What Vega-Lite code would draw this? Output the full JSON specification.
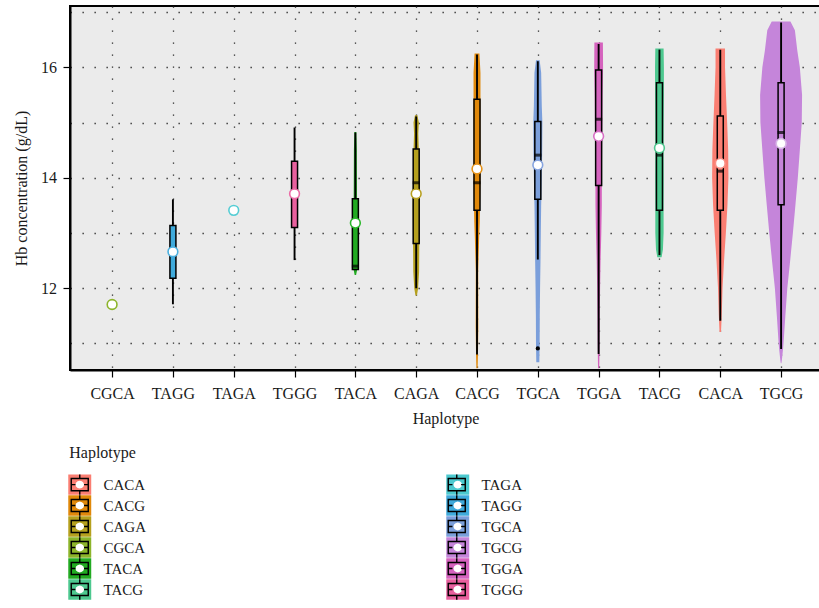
{
  "$schema": "https://vega.github.io/schema/vega-lite/v6.json",
  "width": 751,
  "height": 364,
  "autosize": {"type": "none"},
  "padding": {"left": 70, "top": 6, "right": -2, "bottom": 238},
  "background": "white",
  "config": {
    "font": "Liberation Serif",
    "view": {"fill": "#EBEBEB", "stroke": "black", "strokeWidth": 2},
    "axis": {
      "labelFont": "Liberation Serif", "titleFont": "Liberation Serif",
      "labelFontSize": 16, "titleFontSize": 16,
      "labelColor": "#1a1a1a", "titleColor": "#1a1a1a", "titleFontWeight": "normal",
      "domainColor": "black", "domainWidth": 2,
      "tickColor": "black", "tickSize": 7, "tickWidth": 1.2,
      "gridColor": "#2a2a2a", "gridDash": [1.3, 10.7], "gridWidth": 1.3
    },
    "legend": {
      "labelFont": "Liberation Serif", "titleFont": "Liberation Serif",
      "labelFontSize": 15, "titleFontSize": 16, "titleFontWeight": "normal",
      "labelColor": "#1a1a1a", "titleColor": "#1a1a1a"
    }
  },
  "datasets": {
    "violin": [
      {"Haplotype": "TACA", "hb": 14.83, "lo": 4.984, "hi": 5.016},
      {"Haplotype": "TACA", "hb": 14.5, "lo": 4.976, "hi": 5.024},
      {"Haplotype": "TACA", "hb": 13.5, "lo": 4.972, "hi": 5.028},
      {"Haplotype": "TACA", "hb": 12.8, "lo": 4.965, "hi": 5.035},
      {"Haplotype": "TACA", "hb": 12.4, "lo": 4.96, "hi": 5.04},
      {"Haplotype": "TACA", "hb": 12.24, "lo": 4.988, "hi": 5.012},
      {"Haplotype": "CAGA", "hb": 15.13, "lo": 5.98, "hi": 6.02},
      {"Haplotype": "CAGA", "hb": 15.0, "lo": 5.956, "hi": 6.044},
      {"Haplotype": "CAGA", "hb": 14.8, "lo": 5.965, "hi": 6.035},
      {"Haplotype": "CAGA", "hb": 14.3, "lo": 5.95, "hi": 6.05},
      {"Haplotype": "CAGA", "hb": 13.5, "lo": 5.942, "hi": 6.058},
      {"Haplotype": "CAGA", "hb": 12.6, "lo": 5.95, "hi": 6.05},
      {"Haplotype": "CAGA", "hb": 12.3, "lo": 5.952, "hi": 6.048},
      {"Haplotype": "CAGA", "hb": 12.0, "lo": 5.968, "hi": 6.032},
      {"Haplotype": "CAGA", "hb": 11.87, "lo": 5.988, "hi": 6.012},
      {"Haplotype": "CACG", "hb": 16.25, "lo": 6.96, "hi": 7.04},
      {"Haplotype": "CACG", "hb": 15.9, "lo": 6.943, "hi": 7.057},
      {"Haplotype": "CACG", "hb": 15.5, "lo": 6.943, "hi": 7.057},
      {"Haplotype": "CACG", "hb": 14.5, "lo": 6.943, "hi": 7.057},
      {"Haplotype": "CACG", "hb": 13.9, "lo": 6.943, "hi": 7.057},
      {"Haplotype": "CACG", "hb": 13.5, "lo": 6.95, "hi": 7.05},
      {"Haplotype": "CACG", "hb": 13.2, "lo": 6.955, "hi": 7.045},
      {"Haplotype": "CACG", "hb": 12.9, "lo": 6.965, "hi": 7.035},
      {"Haplotype": "CACG", "hb": 12.3, "lo": 6.98, "hi": 7.02},
      {"Haplotype": "CACG", "hb": 11.3, "lo": 6.978, "hi": 7.022},
      {"Haplotype": "CACG", "hb": 10.8, "lo": 6.984, "hi": 7.016},
      {"Haplotype": "CACG", "hb": 10.55, "lo": 6.99, "hi": 7.01},
      {"Haplotype": "TGCA", "hb": 16.13, "lo": 7.97, "hi": 8.03},
      {"Haplotype": "TGCA", "hb": 15.9, "lo": 7.945, "hi": 8.055},
      {"Haplotype": "TGCA", "hb": 15.3, "lo": 7.935, "hi": 8.065},
      {"Haplotype": "TGCA", "hb": 15.0, "lo": 7.925, "hi": 8.075},
      {"Haplotype": "TGCA", "hb": 14.5, "lo": 7.928, "hi": 8.072},
      {"Haplotype": "TGCA", "hb": 14.0, "lo": 7.935, "hi": 8.065},
      {"Haplotype": "TGCA", "hb": 13.5, "lo": 7.945, "hi": 8.055},
      {"Haplotype": "TGCA", "hb": 13.0, "lo": 7.951, "hi": 8.049},
      {"Haplotype": "TGCA", "hb": 12.5, "lo": 7.956, "hi": 8.044},
      {"Haplotype": "TGCA", "hb": 12.0, "lo": 7.963, "hi": 8.037},
      {"Haplotype": "TGCA", "hb": 11.5, "lo": 7.968, "hi": 8.032},
      {"Haplotype": "TGCA", "hb": 11.0, "lo": 7.97, "hi": 8.03},
      {"Haplotype": "TGCA", "hb": 10.66, "lo": 7.975, "hi": 8.025},
      {"Haplotype": "TGGA", "hb": 16.45, "lo": 8.93, "hi": 9.07},
      {"Haplotype": "TGGA", "hb": 16.0, "lo": 8.927, "hi": 9.073},
      {"Haplotype": "TGGA", "hb": 15.5, "lo": 8.935, "hi": 9.065},
      {"Haplotype": "TGGA", "hb": 15.0, "lo": 8.938, "hi": 9.062},
      {"Haplotype": "TGGA", "hb": 14.5, "lo": 8.943, "hi": 9.057},
      {"Haplotype": "TGGA", "hb": 14.0, "lo": 8.947, "hi": 9.053},
      {"Haplotype": "TGGA", "hb": 13.5, "lo": 8.948, "hi": 9.052},
      {"Haplotype": "TGGA", "hb": 13.0, "lo": 8.956, "hi": 9.044},
      {"Haplotype": "TGGA", "hb": 12.5, "lo": 8.968, "hi": 9.032},
      {"Haplotype": "TGGA", "hb": 12.0, "lo": 8.976, "hi": 9.024},
      {"Haplotype": "TGGA", "hb": 11.5, "lo": 8.981, "hi": 9.019},
      {"Haplotype": "TGGA", "hb": 11.0, "lo": 8.984, "hi": 9.016},
      {"Haplotype": "TGGA", "hb": 10.55, "lo": 8.99, "hi": 9.01},
      {"Haplotype": "TACG", "hb": 16.34, "lo": 9.932, "hi": 10.068},
      {"Haplotype": "TACG", "hb": 16.0, "lo": 9.927, "hi": 10.073},
      {"Haplotype": "TACG", "hb": 15.5, "lo": 9.927, "hi": 10.073},
      {"Haplotype": "TACG", "hb": 15.0, "lo": 9.93, "hi": 10.07},
      {"Haplotype": "TACG", "hb": 14.5, "lo": 9.932, "hi": 10.068},
      {"Haplotype": "TACG", "hb": 14.0, "lo": 9.93, "hi": 10.07},
      {"Haplotype": "TACG", "hb": 13.5, "lo": 9.932, "hi": 10.068},
      {"Haplotype": "TACG", "hb": 13.0, "lo": 9.932, "hi": 10.068},
      {"Haplotype": "TACG", "hb": 12.7, "lo": 9.943, "hi": 10.057},
      {"Haplotype": "TACG", "hb": 12.56, "lo": 9.965, "hi": 10.035},
      {"Haplotype": "CACA", "hb": 16.34, "lo": 10.922, "hi": 11.078},
      {"Haplotype": "CACA", "hb": 16.0, "lo": 10.922, "hi": 11.078},
      {"Haplotype": "CACA", "hb": 15.5, "lo": 10.906, "hi": 11.094},
      {"Haplotype": "CACA", "hb": 15.0, "lo": 10.887, "hi": 11.113},
      {"Haplotype": "CACA", "hb": 14.5, "lo": 10.87, "hi": 11.13},
      {"Haplotype": "CACA", "hb": 14.0, "lo": 10.866, "hi": 11.134},
      {"Haplotype": "CACA", "hb": 13.5, "lo": 10.882, "hi": 11.118},
      {"Haplotype": "CACA", "hb": 13.0, "lo": 10.908, "hi": 11.092},
      {"Haplotype": "CACA", "hb": 12.5, "lo": 10.938, "hi": 11.062},
      {"Haplotype": "CACA", "hb": 12.0, "lo": 10.963, "hi": 11.037},
      {"Haplotype": "CACA", "hb": 11.5, "lo": 10.976, "hi": 11.024},
      {"Haplotype": "CACA", "hb": 11.21, "lo": 10.988, "hi": 11.012},
      {"Haplotype": "TGCG", "hb": 16.83, "lo": 11.846, "hi": 12.154},
      {"Haplotype": "TGCG", "hb": 16.67, "lo": 11.773, "hi": 12.227},
      {"Haplotype": "TGCG", "hb": 16.3, "lo": 11.733, "hi": 12.267},
      {"Haplotype": "TGCG", "hb": 16.0, "lo": 11.692, "hi": 12.308},
      {"Haplotype": "TGCG", "hb": 15.5, "lo": 11.655, "hi": 12.345},
      {"Haplotype": "TGCG", "hb": 15.0, "lo": 11.66, "hi": 12.34},
      {"Haplotype": "TGCG", "hb": 14.5, "lo": 11.692, "hi": 12.308},
      {"Haplotype": "TGCG", "hb": 14.0, "lo": 11.725, "hi": 12.275},
      {"Haplotype": "TGCG", "hb": 13.5, "lo": 11.765, "hi": 12.235},
      {"Haplotype": "TGCG", "hb": 13.0, "lo": 11.806, "hi": 12.194},
      {"Haplotype": "TGCG", "hb": 12.5, "lo": 11.851, "hi": 12.149},
      {"Haplotype": "TGCG", "hb": 12.0, "lo": 11.898, "hi": 12.102},
      {"Haplotype": "TGCG", "hb": 11.5, "lo": 11.93, "hi": 12.07},
      {"Haplotype": "TGCG", "hb": 11.0, "lo": 11.96, "hi": 12.04},
      {"Haplotype": "TGCG", "hb": 10.9, "lo": 11.968, "hi": 12.032},
      {"Haplotype": "TGCG", "hb": 10.7, "lo": 11.987, "hi": 12.013},
      {"Haplotype": "TGCG", "hb": 10.64, "lo": 11.995, "hi": 12.005}
    ],
    "stats": [
      {"Haplotype": "TAGG", "idx": 2, "q1": 12.18, "q3": 13.135, "med": 12.66, "wlo": 11.71, "whi": 13.61},
      {"Haplotype": "TGGG", "idx": 4, "q1": 13.10, "q3": 14.30, "med": 13.71, "wlo": 12.51, "whi": 14.91},
      {"Haplotype": "TACA", "idx": 5, "q1": 12.34, "q3": 13.62, "med": 12.40, "wlo": 12.34, "whi": 14.82},
      {"Haplotype": "CAGA", "idx": 6, "q1": 12.81, "q3": 14.52, "med": 13.91, "wlo": 12.0, "whi": 15.11},
      {"Haplotype": "CACG", "idx": 7, "q1": 13.41, "q3": 15.42, "med": 13.91, "wlo": 10.8, "whi": 16.23},
      {"Haplotype": "TGCA", "idx": 8, "q1": 13.61, "q3": 15.02, "med": 14.41, "wlo": 12.52, "whi": 16.11},
      {"Haplotype": "TGGA", "idx": 9, "q1": 13.86, "q3": 15.95, "med": 15.06, "wlo": 10.81, "whi": 16.42},
      {"Haplotype": "TACG", "idx": 10, "q1": 13.41, "q3": 15.72, "med": 14.41, "wlo": 12.60, "whi": 16.32},
      {"Haplotype": "CACA", "idx": 11, "q1": 13.41, "q3": 15.12, "med": 14.12, "wlo": 11.41, "whi": 16.32},
      {"Haplotype": "TGCG", "idx": 12, "q1": 13.51, "q3": 15.72, "med": 14.82, "wlo": 10.90, "whi": 16.81}
    ],
    "means": [
      {"Haplotype": "CGCA", "idx": 1, "mean": 11.705},
      {"Haplotype": "TAGG", "idx": 2, "mean": 12.66},
      {"Haplotype": "TAGA", "idx": 3, "mean": 13.41},
      {"Haplotype": "TGGG", "idx": 4, "mean": 13.71},
      {"Haplotype": "TACA", "idx": 5, "mean": 13.18},
      {"Haplotype": "CAGA", "idx": 6, "mean": 13.71},
      {"Haplotype": "CACG", "idx": 7, "mean": 14.16},
      {"Haplotype": "TGCA", "idx": 8, "mean": 14.23},
      {"Haplotype": "TGGA", "idx": 9, "mean": 14.75},
      {"Haplotype": "TACG", "idx": 10, "mean": 14.54},
      {"Haplotype": "CACA", "idx": 11, "mean": 14.26},
      {"Haplotype": "TGCG", "idx": 12, "mean": 14.62}
    ],
    "outliers": [
      {"Haplotype": "TGCA", "idx": 8, "value": 10.91}
    ]
  },
  "layer": [
    {
      "data": {"name": "violin"},
      "mark": {"type": "area", "orient": "horizontal"},
      "encoding": {
        "y": {
          "field": "hb", "type": "quantitative",
          "scale": {"domain": [10.52, 17.11], "nice": false, "zero": false},
          "axis": {
            "title": "Hb concentration (g/dL)",
            "values": [11, 12, 13, 14, 15, 16, 17],
            "format": "d",
            "labelExpr": "datum.value % 2 == 0 ? datum.label : ''",
            "tickColor": {"condition": {"test": "datum.value % 2 == 0", "value": "black"}, "value": "transparent"},
            "labelPadding": 6.5,
            "titlePadding": 11
          }
        },
        "x": {
          "field": "lo", "type": "quantitative",
          "scale": {"domain": [0.39, 12.574], "nice": false, "zero": false},
          "axis": {
            "title": "Haplotype",
            "values": [1, 2, 3, 4, 5, 6, 7, 8, 9, 10, 11, 12],
            "labelExpr": "['CGCA','TAGG','TAGA','TGGG','TACA','CAGA','CACG','TGCA','TGGA','TACG','CACA','TGCG'][datum.value - 1]",
            "labelPadding": 8.5,
            "titlePadding": 9
          }
        },
        "x2": {"field": "hi"},
        "color": {
          "field": "Haplotype", "type": "nominal",
          "scale": {
            "domain": ["CACA", "CACG", "CAGA", "CGCA", "TACA", "TACG", "TAGA", "TAGG", "TGCA", "TGCG", "TGGA", "TGGG"],
            "range": ["#FA7E72", "#E0880A", "#B5A01E", "#8CB42A", "#22AA22", "#4DC88F", "#4CC9CF", "#3FAADB", "#7B9FDB", "#C585DA", "#D563BE", "#E8609E"]
          },
          "legend": {
            "title": "Haplotype",
            "orient": "none",
            "legendX": -0.75,
            "legendY": 439,
            "columns": 2,
            "columnPadding": 300,
            "rowPadding": 0,
            "padding": 0,
            "symbolType": "M-1.12,-1H1.12V1H-1.12ZM0.42,0L0.364,-0.19L0.21,-0.329L0,-0.38L-0.21,-0.329L-0.364,-0.19L-0.42,0L-0.364,0.19L-0.21,0.329L0,0.38L0.21,0.329L0.364,0.19Z",
            "symbolSize": 420,
            "symbolStrokeWidth": 0,
            "symbolOpacity": 1,
            "labelOffset": 13.25,
            "titlePadding": 13
          }
        }
      }
    },
    {
      "data": {"name": "means"},
      "mark": {"type": "point", "filled": true, "color": "black", "size": 0},
      "encoding": {
        "x": {"field": "idx", "type": "quantitative"},
        "y": {"field": "mean", "type": "quantitative"},
        "opacity": {
          "field": "Haplotype", "type": "ordinal",
          "scale": {"range": [1, 1]},
          "legend": {
            "title": "Haplotype",
            "orient": "none",
            "legendX": -0.75,
            "legendY": 439,
            "columns": 2,
            "columnPadding": 300,
            "rowPadding": 0,
            "padding": 0,
            "symbolType": "M-0.9,-0.66H0.9V0.66H-0.9ZM-0.76,-0.52V0.52H0.76V-0.52ZM-0.07,-1H0.07V-0.66H-0.07ZM-0.07,0.66H0.07V1H-0.07ZM-0.76,-0.07H-0.42V0.07H-0.76ZM0.42,-0.07H0.76V0.07H0.42Z",
            "symbolSize": 420,
            "symbolFillColor": "black",
            "symbolStrokeWidth": 0,
            "labelOffset": 13.25,
            "titlePadding": 13,
            "titleColor": "transparent",
            "labelColor": "transparent"
          }
        }
      }
    },
    {
      "data": {"name": "stats"},
      "mark": {"type": "rule", "color": "black", "strokeWidth": 1.9},
      "encoding": {
        "x": {"field": "idx", "type": "quantitative"},
        "y": {"field": "wlo", "type": "quantitative"},
        "y2": {"field": "whi"}
      }
    },
    {
      "data": {"name": "stats"},
      "mark": {"type": "bar", "width": 6, "stroke": "black", "strokeWidth": 1.5},
      "encoding": {
        "x": {"field": "idx", "type": "quantitative"},
        "y": {"field": "q1", "type": "quantitative"},
        "y2": {"field": "q3"},
        "color": {"field": "Haplotype", "type": "nominal"}
      }
    },
    {
      "data": {"name": "stats"},
      "mark": {"type": "tick", "orient": "horizontal", "color": "black", "size": 7, "thickness": 3},
      "encoding": {
        "x": {"field": "idx", "type": "quantitative"},
        "y": {"field": "med", "type": "quantitative"}
      }
    },
    {
      "data": {"name": "means"},
      "mark": {"type": "point", "shape": "circle", "filled": true, "fill": "white", "strokeWidth": 1.6, "size": 95, "opacity": 1},
      "encoding": {
        "x": {"field": "idx", "type": "quantitative"},
        "y": {"field": "mean", "type": "quantitative"},
        "stroke": {
          "field": "Haplotype", "type": "nominal",
          "scale": {
            "domain": ["CACA", "CACG", "CAGA", "CGCA", "TACA", "TACG", "TAGA", "TAGG", "TGCA", "TGCG", "TGGA", "TGGG"],
            "range": ["#FA8F85", "#E59218", "#B8A020", "#8DB52C", "#2DB82D", "#4FC78F", "#55CDD4", "#4BB0E0", "#86A4E0", "#D9B8E8", "#D86EC5", "#EB6BA6"]
          },
          "legend": null
        }
      }
    },
    {
      "data": {"name": "outliers"},
      "mark": {"type": "point", "shape": "circle", "filled": true, "color": "black", "size": 18, "opacity": 1},
      "encoding": {
        "x": {"field": "idx", "type": "quantitative"},
        "y": {"field": "value", "type": "quantitative"}
      }
    }
  ]
}
